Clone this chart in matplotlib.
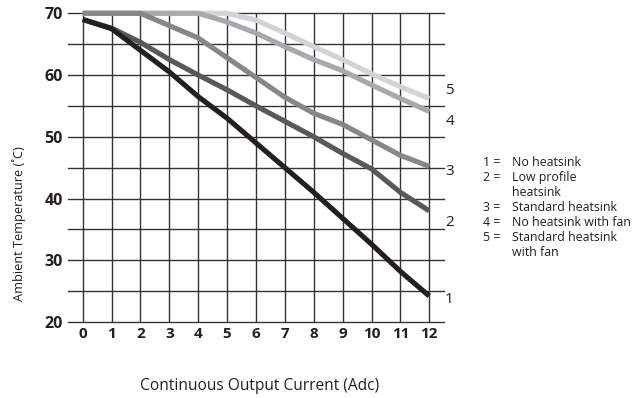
import matplotlib
matplotlib.use("Agg")
import matplotlib.pyplot as plt

# Derating curves: ambient temperature vs. continuous output current
current = [0, 1, 2, 3, 4, 5, 6, 7, 8, 9, 10, 11, 12]
no_heatsink = [69, 67.5, 64, 60.5, 56.5, 53, 49, 45, 41, 36.8, 32.6, 28.2, 24.2]
low_profile = [69, 67.6, 65.3, 62.5, 60, 57.6, 55, 52.5, 50, 47.3, 44.8, 41, 38]
standard = [70, 70, 70, 68, 66, 62.8, 59.6, 56.4, 53.8, 52, 49.5, 47, 45.2]
no_heatsink_fan = [70, 70, 70, 70, 70, 68.6, 66.8, 64.6, 62.5, 60.7, 58.4, 56.2, 54.1]
standard_fan = [70, 70, 70, 70, 70, 70, 68.9, 66.8, 64.6, 62.5, 60.2, 58.1, 56.2]

curve_ids = ["1", "2", "3", "4", "5"]
curve_label_y = [23.7, 36.1, 44.3, 52.4, 57.5]
legend_rows = [("1 =", "No heatsink"),
               ("2 =", "Low profile\nheatsink"),
               ("3 =", "Standard heatsink"),
               ("4 =", "No heatsink with fan"),
               ("5 =", "Standard heatsink\nwith fan")]

y_major = [20, 30, 40, 50, 60, 70]
y_grid = [20, 25, 30, 35, 40, 45, 50, 55, 60, 65, 70]

plt.rcParams['font.family'] = ['Open Sans', 'DejaVu Sans']
ink = "#231f20"

fig = plt.figure(figsize=(6.34, 3.98), dpi=100)
ax = fig.add_axes([68.3 / 634, 1 - 322 / 398, 375.4 / 634, 308.7 / 398])
ax.set_xlim(-0.5, 12.5)
ax.set_ylim(20, 70)
for s in ax.spines.values():
    s.set_visible(False)

grid_color = "#333333"
for yv in y_grid:
    ax.axhline(yv, color=grid_color, lw=1.0, clip_on=False, zorder=1)
ax.vlines(current, 20, 70, color=grid_color, lw=1.0, clip_on=False, zorder=1)

series = [no_heatsink, low_profile, standard, no_heatsink_fan, standard_fan]
colors = ["#231f20", "#58595b", "#858789", "#a7a9ac", "#d1d3d4"]
# lighter curves drawn first so the darker ones sit on top
for i in range(4, -1, -1):
    ax.plot(current, series[i], color=colors[i], lw=3.7, solid_capstyle="butt",
            solid_joinstyle="round", clip_on=False, zorder=3 + (5 - i))

for cid, yl in zip(curve_ids, curve_label_y):
    ax.text(12.55, yl, cid, fontsize=11, ha="left", va="center", color=ink)

ax.set_xticks(current)
ax.set_xticklabels([str(c) for c in current], fontsize=11, fontweight="bold")
ax.set_yticks(y_major)
ax.set_yticklabels([str(v) for v in y_major], fontsize=11.5, fontweight="bold")
ax.tick_params(axis="x", length=0, pad=3.5, colors=ink)
ax.tick_params(axis="y", length=0, pad=4, colors=ink)

fig.text(19 / 634, 1 - 224 / 398, "Ambient Temperature (˚C)", fontsize=9.2,
         rotation=90, ha="center", va="center", color=ink)
fig.text(260 / 634, 1 - 386 / 398, "Continuous Output Current (Adc)", fontsize=11.2,
         ha="center", va="center", color=ink)

row_y = 162.7
for key, desc in legend_rows:
    fig.text(483 / 634, 1 - row_y / 398, key, fontsize=8.9, ha="left", va="center",
             color=ink)
    for j, part in enumerate(desc.split("\n")):
        fig.text(511.7 / 634, 1 - (row_y + 15 * j) / 398, part, fontsize=8.9,
                 ha="left", va="center", color=ink)
    row_y += 15 * (desc.count("\n") + 1)

fig.savefig("out.png", dpi=100)
